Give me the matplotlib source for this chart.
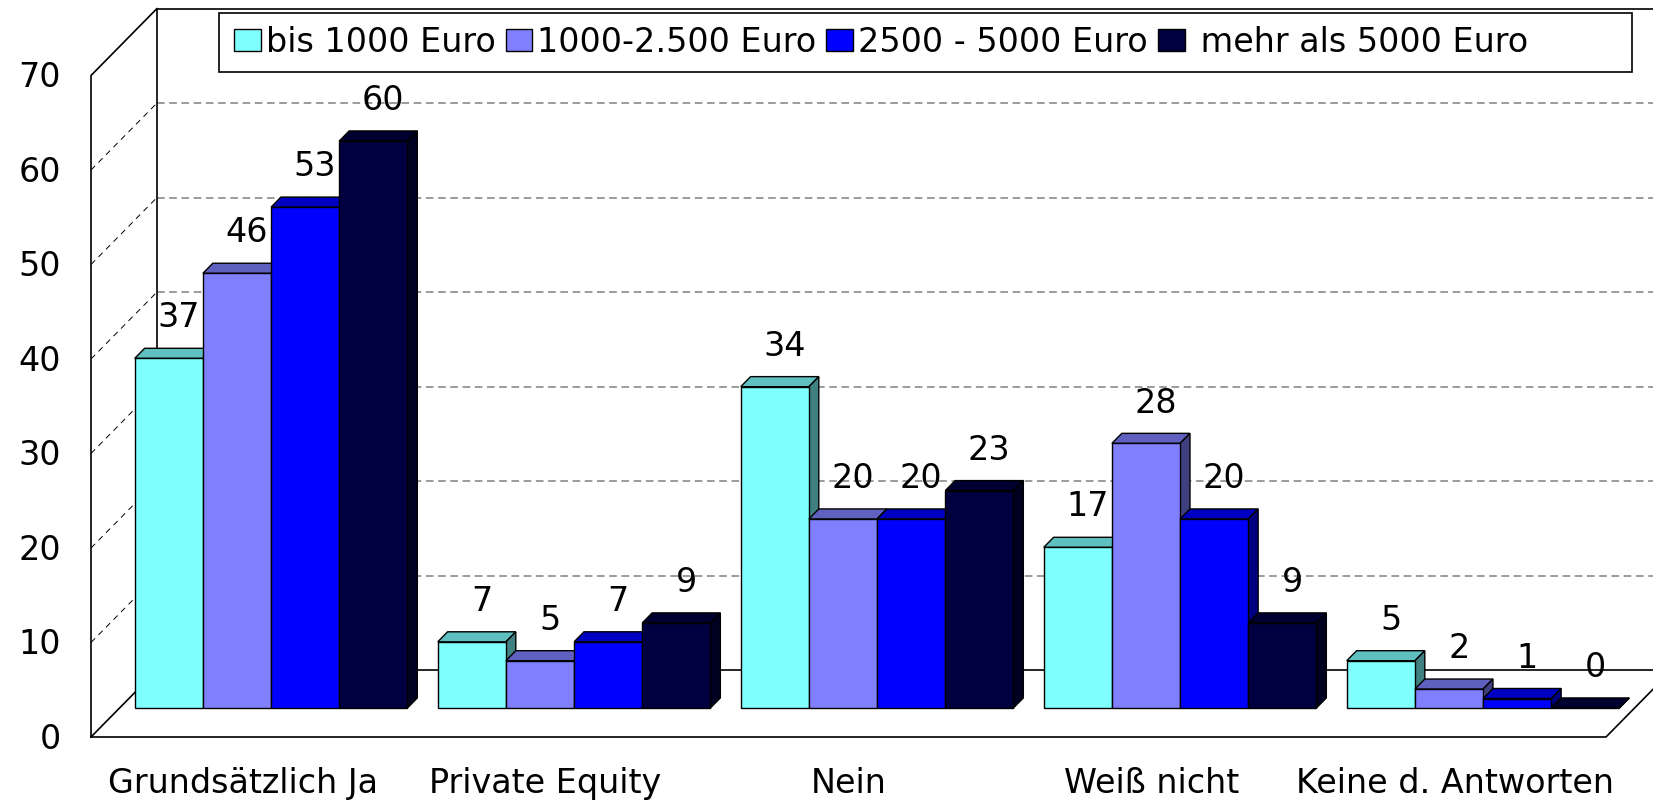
import matplotlib.pyplot as plt
from matplotlib.patches import Polygon, Patch, Rectangle

categories = ['Grundsätzlich Ja', 'Private Equity', 'Nein', 'Weiß nicht', 'Keine d. Antworten']
series = ['bis 1000 Euro', '1000-2.500 Euro', '2500 - 5000 Euro', ' mehr als 5000 Euro']
bis_1000 = [37, 7, 34, 17, 5]
bis_2500 = [46, 5, 20, 28, 2]
bis_5000 = [53, 7, 20, 20, 1]
ueber_5000 = [60, 9, 23, 9, 0]
yticks = [0, 10, 20, 30, 40, 50, 60, 70]

front_cols = ['#80ffff', '#8080ff', '#0000ff', '#000040']
top_cols = ['#60c0c0', '#6060c0', '#0000c0', '#000030']
side_cols = ['#408080', '#404080', '#000080', '#000020']

plt.rcParams['font.family'] = ['DejaVu Sans']
FS = 24

# pixel layout of the fake 3d box
W, H = 1653, 802
x0_px, y0_px = 91, 737
step_px, unit_px = 303, 9.45
dx = 66 / step_px          # depth offset in category units
dy = 67 / unit_px          # depth offset in value units
ymax = yticks[-1]
n = len(categories)
d0, bd = 0.433, 0.15       # bar plane depth, bar thickness
bw, pad = 0.225, 0.05

fig = plt.figure(figsize=(W / 100, H / 100), dpi=100)
ax = fig.add_axes([0, 0, 1, 1])
ax.set_xlim(-x0_px / step_px, (W - x0_px) / step_px)
ax.set_ylim((y0_px - H) / unit_px, y0_px / unit_px)
ax.axis('off')


def P(x, v, d):
    return (x + d * dx, v + d * dy)


def line(pts, **kw):
    xs, ys = zip(*pts)
    ax.plot(xs, ys, **kw)


# walls and floor
line([P(0, 0, 0), P(0, ymax, 0), P(0, ymax, 1), P(0, 0, 1), P(0, 0, 0)], color='k', lw=1.2, zorder=2)
line([P(0, ymax, 1), P(n + 0.5, ymax, 1)], color='k', lw=1.2, zorder=2)
line([P(0, 0, 1), P(n + 0.5, 0, 1)], color='k', lw=1.2, zorder=2)
line([P(0, 0, 0), P(n, 0, 0), P(n, 0, 1.5)], color='k', lw=1.2, zorder=2)

for v in yticks[1:-1]:
    line([P(0, v, 1), P(n + 0.5, v, 1)], color='#808080', lw=1.1, ls=(0, (5, 3)), zorder=1)
    line([P(0, v, 0), P(0, v, 1)], color='k', lw=0.7, ls=(0, (6, 5)), zorder=1)

for v in yticks:
    ax.annotate(str(v), xy=P(0, v, 0), xytext=(-21.6, -8.6), textcoords='offset points',
                ha='right', va='baseline', fontsize=FS)

for i, c in enumerate(categories):
    ax.annotate(c, xy=P(i + 0.5, 0, 0), xytext=(0, -40.3), textcoords='offset points',
                ha='center', va='baseline', fontsize=FS)

# bars
data = [bis_1000, bis_2500, bis_5000, ueber_5000]
for j, vals in enumerate(data):
    for i, v in enumerate(vals):
        xl = i + pad + j * bw
        fx, fy = P(xl, 0, d0)
        ax.bar(fx, v, width=bw, bottom=fy, align='edge', color=front_cols[j],
               edgecolor='k', lw=1, zorder=4 + 2 * j)
        top = [P(xl, v, d0), P(xl + bw, v, d0), P(xl + bw, v, d0 + bd), P(xl, v, d0 + bd)]
        side = [P(xl + bw, 0, d0), P(xl + bw, v, d0), P(xl + bw, v, d0 + bd), P(xl + bw, 0, d0 + bd)]
        ax.add_patch(Polygon(top, closed=True, fc=top_cols[j], ec='k', lw=1, zorder=3 + 2 * j))
        ax.add_patch(Polygon(side, closed=True, fc=side_cols[j], ec='k', lw=1, zorder=3 + 2 * j))
        ax.annotate(str(v), xy=P(xl + bw / 2, v, d0 + bd), xytext=(0, 15), textcoords='offset points',
                    ha='center', va='baseline', fontsize=FS, zorder=20)

# legend: entries + a wider box like the original
handles = [Patch(facecolor=c, edgecolor='k', lw=1) for c in front_cols]
leg = fig.legend(handles, series, loc='center left', bbox_to_anchor=(234 / W, 1 - 42.5 / H), ncol=4,
                 fontsize=FS, handlelength=0.8, handleheight=0.65, handletextpad=0.15,
                 columnspacing=0.3, borderpad=0, borderaxespad=0, frameon=False)
fig.patches.append(Rectangle((219 / W, 1 - 72 / H), (1632 - 219) / W, 59 / H, transform=fig.transFigure,
                             fill=True, fc='white', ec='k', lw=1.2, zorder=0))

fig.savefig('out.png', dpi=100)
